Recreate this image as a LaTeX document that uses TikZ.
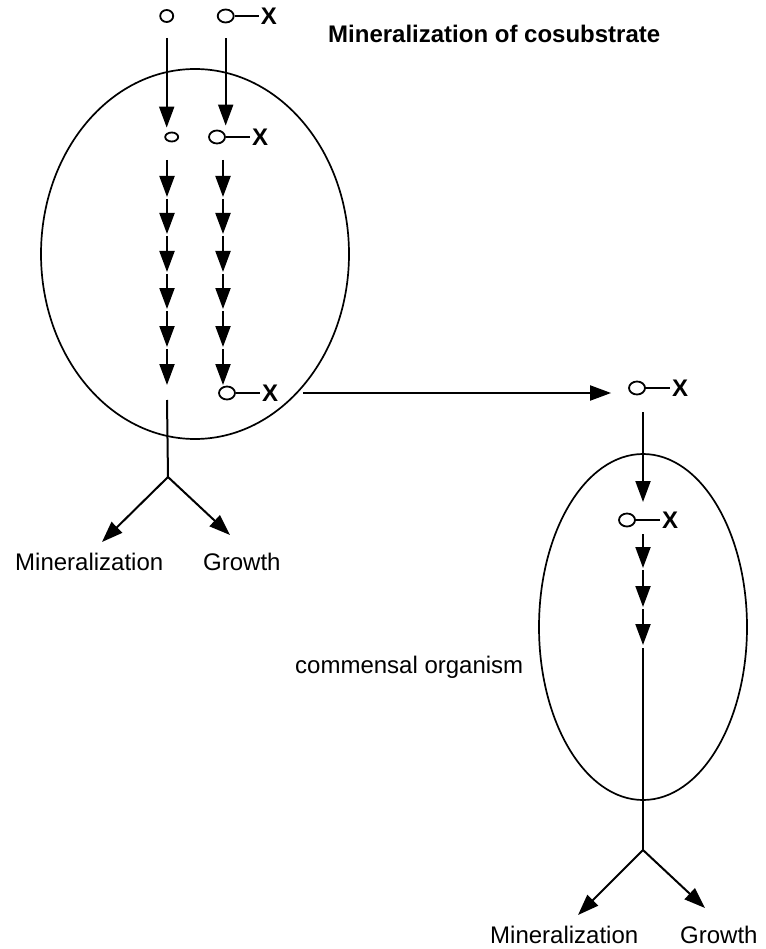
\documentclass[tikz,border=0pt]{standalone}
\usepackage{fontspec}
\setmainfont{Liberation Sans}
\usetikzlibrary{positioning}
\usetikzlibrary{shapes.geometric}
\usetikzlibrary{arrows.meta}

\begin{document}
\begin{tikzpicture}[
                x=1pt, y=-1pt,
                every node/.style={font=\fontsize{24}{28}\selectfont},
                cell/.style={ellipse, draw, line width=1.7pt, inner sep=0pt},
                mol/.style={ellipse, draw, line width=1.8pt, inner sep=0pt, minimum width=13pt, minimum height=12pt},
                molx/.style={mol, minimum width=16pt, minimum height=13pt},
                mols/.style={mol, minimum width=13pt, minimum height=9pt},
                xlab/.style={font=\fontsize{24}{28}\selectfont\bfseries, inner sep=2pt},
                lbl/.style={anchor=base west, inner sep=0pt},
                arr/.style={-{Triangle[length=21pt, width=15pt]}, line width=2pt},
                link/.style={line width=2pt}
            ]
            \useasboundingbox (0,0) rectangle (765,949);
            % Cells
            \node[cell, minimum width=308pt, minimum height=370pt] (cellA) at (195,254) {};
            \node[cell, minimum width=208pt, minimum height=346pt] (cellB) at (643,627) {};
            \node[lbl, font=\fontsize{24}{28}\selectfont\bfseries] (title) at (328,43) {Mineralization of cosubstrate};
            \node[lbl] (comm) at (295,673) {commensal organism};
            % Nodes
            \node[mol] (s0) at (166.7,16) {};
            \node[molx] (cx0) at (225.7,16) {};
            \node[xlab, right=24pt of cx0] (x0) {X};
            \node[mols] (s1) at (171.7,137) {};
            \node[molx] (cx1) at (217,137) {};
            \node[xlab, right=24pt of cx1] (x1) {X};
            \node[molx] (cx2) at (227,393) {};
            \node[xlab, right=24pt of cx2] (x2) {X};
            \node[molx] (cx3) at (637,388) {};
            \node[xlab, right=24pt of cx3] (x3) {X};
            \node[molx] (cx4) at (627,520) {};
            \node[xlab, right=24pt of cx4] (x4) {X};
            \node[lbl] (minA) at (15,570) {Mineralization};
            \node[lbl] (groA) at (203,570) {Growth};
            \node[lbl] (minB) at (490,943) {Mineralization};
            \node[lbl] (groB) at (680,943) {Growth};
            % Points
            \foreach \y [count=\i] in {158,197,234,272,309,347,385} {
                \coordinate (l\i) at (167,\y);
                \coordinate (r\i) at (223,\y);
            }
            \foreach \y [count=\i] in {532,568,607,645} \coordinate (b\i) at (643,\y);
            \coordinate (ltail) at (167,400);
            \coordinate (lfork) at (168,477);
            \coordinate (btop) at (643,412);
            \coordinate (bin) at (643,502);
            \coordinate (btail) at (643,648);
            \coordinate (bfork) at (643,850);
            % Arrows
            \draw[link] (cx0) -- (x0);
            \draw[link] (cx1) -- (x1);
            \draw[link] (cx2) -- (x2);
            \draw[link] (cx3) -- (x3);
            \draw[link] (cx4) -- (x4);
            \draw[arr, shorten <=15pt, shorten >=4pt] (s0.south) -- (s0.south |- s1.north);
            \draw[arr, shorten <=15pt, shorten >=4pt] (cx0.south) -- (cx0.south |- cx1.north);
            \foreach \i [evaluate=\i as \j using int(\i+1)] in {1,...,6} {
                \draw[arr, shorten <=2pt] (l\i) -- (l\j);
                \draw[arr, shorten <=2pt] (r\i) -- (r\j);
            }
            \draw[link] (ltail) -- (lfork);
            \draw[arr] (lfork) -- ++(-66,65);
            \draw[arr] (lfork) -- ++(62,58);
            \draw[arr, shorten <=23pt, shorten >=17pt] (x2.east) -- (x2.east -| cx3.west);
            \draw[arr] (btop) -- (bin);
            \foreach \i [evaluate=\i as \j using int(\i+1)] in {1,2,3}
                \draw[arr, shorten <=2pt] (b\i) -- (b\j);
            \draw[link] (btail) -- (bfork);
            \draw[arr] (bfork) -- ++(-65,65);
            \draw[arr] (bfork) -- ++(62,58);
\end{tikzpicture}
\end{document}
